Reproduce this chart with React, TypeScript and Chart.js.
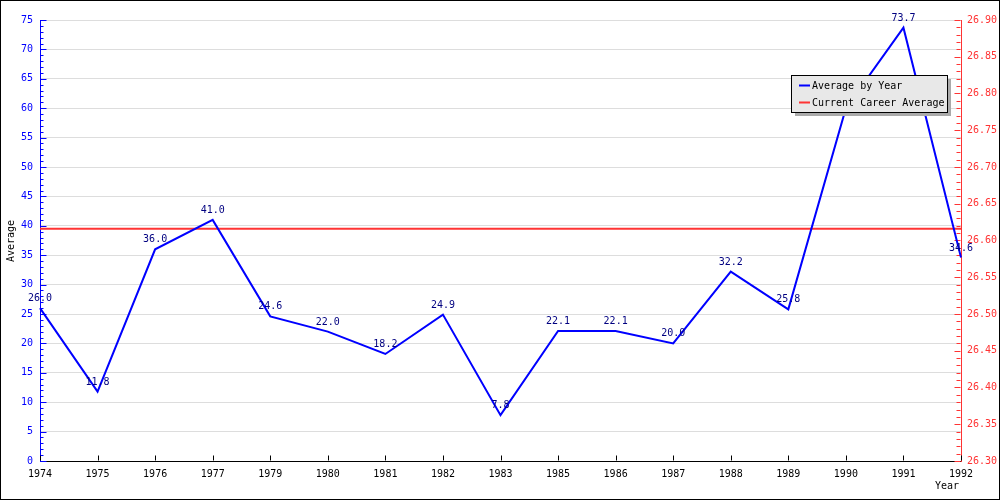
import React, { useEffect, useRef } from "react";
import { Chart, registerables } from "chart.js";

Chart.register(...registerables);

const years = [
  "1974", "1975", "1976", "1977", "1979", "1980", "1981", "1982", "1983",
  "1985", "1986", "1987", "1988", "1989", "1990", "1991", "1992",
];
const averageByYear = [
  26.0, 11.8, 36.0, 41.0, 24.6, 22.0, 18.2, 24.9, 7.8,
  22.1, 22.1, 20.0, 32.2, 25.8, 60.0, 73.7, 34.6,
];
const careerAverage = 26.616;
const careerLine = years.map(() => careerAverage);

const leftMin = 0;
const leftMax = 75;
const leftStep = 5;
const leftMinorStep = 1;
const rightMin = 26.3;
const rightMax = 26.9;
const rightStep = 0.05;
const rightMinorStep = 0.01;

const seriesLabels = ["Average by Year", "Current Career Average"];
const yTitle = "Average";
const xTitle = "Year";

const FAMILY = '"DejaVu Sans Mono", "Liberation Mono", monospace';
const FONT = "10px " + FAMILY;
const BLUE = "#0000ff";
const RED = "#ff3333";

const decorPlugin = {
  id: "decor",
  beforeDraw(chart: any) {
    const ctx = chart.ctx;
    ctx.save();
    ctx.fillStyle = "#ffffff";
    ctx.fillRect(0, 0, chart.width, chart.height);
    ctx.restore();
  },
  beforeDatasetsDraw(chart: any) {
    const ctx = chart.ctx;
    const y = chart.scales.y;
    const y1 = chart.scales.y1;
    const x = chart.scales.x;
    const area = chart.chartArea;
    ctx.save();
    ctx.lineWidth = 1;
    // left axis ticks (inward)
    ctx.strokeStyle = BLUE;
    ctx.beginPath();
    const lx = Math.round(area.left) + 0.5;
    for (let i = 0; i <= Math.round((leftMax - leftMin) / leftMinorStep); i++) {
      const v = leftMin + i * leftMinorStep;
      const py = Math.round(y.getPixelForValue(v)) + 0.5;
      const major = Math.abs(v / leftStep - Math.round(v / leftStep)) < 1e-6;
      ctx.moveTo(lx, py);
      ctx.lineTo(lx + (major ? 6 : 3), py);
    }
    ctx.stroke();
    // right axis ticks (inward)
    ctx.strokeStyle = RED;
    ctx.beginPath();
    const rx = Math.round(area.right) - 0.5;
    const nR = Math.round((rightMax - rightMin) / rightMinorStep);
    for (let i = 0; i <= nR; i++) {
      const v = rightMin + i * rightMinorStep;
      const py = Math.round(y1.getPixelForValue(v)) + 0.5;
      const major = i % 5 === 0;
      ctx.moveTo(rx, py);
      ctx.lineTo(rx - (major ? 6 : 4), py);
    }
    ctx.stroke();
    // bottom axis ticks (inward)
    ctx.strokeStyle = "#000000";
    ctx.beginPath();
    const by = Math.round(area.bottom) - 0.5;
    for (let i = 0; i < years.length; i++) {
      const px = Math.round(x.getPixelForValue(i)) + 0.5;
      ctx.moveTo(px, by);
      ctx.lineTo(px, by - 5);
    }
    ctx.stroke();
    ctx.restore();
  },
  afterDatasetsDraw(chart: any) {
    const ctx = chart.ctx;
    ctx.save();
    // data labels
    const meta = chart.getDatasetMeta(0);
    ctx.font = FONT;
    ctx.fillStyle = "#000080";
    ctx.textAlign = "center";
    ctx.textBaseline = "alphabetic";
    meta.data.forEach((pt: any, i: number) => {
      ctx.fillText(averageByYear[i].toFixed(1), pt.x, pt.y - 7);
    });

    // legend
    const lx = 791, ly = 75, lw = 156, lh = 37;
    ctx.fillStyle = "#aaaaaa";
    ctx.fillRect(lx + 4, ly + 4, lw, lh);
    ctx.fillStyle = "#e8e8e8";
    ctx.fillRect(lx, ly, lw, lh);
    ctx.strokeStyle = "#000000";
    ctx.lineWidth = 1;
    ctx.strokeRect(lx + 0.5, ly + 0.5, lw, lh);
    chart.data.datasets.forEach((ds: any, i: number) => {
      const yy = ly + 10 + i * 17;
      ctx.strokeStyle = ds.borderColor;
      ctx.lineWidth = 2;
      ctx.beginPath();
      ctx.moveTo(lx + 8, yy + 0.5);
      ctx.lineTo(lx + 19, yy + 0.5);
      ctx.stroke();
      ctx.fillStyle = "#000000";
      ctx.textAlign = "left";
      ctx.textBaseline = "middle";
      ctx.fillText(ds.label, lx + 21, yy + 1);
    });

    // axis titles
    ctx.fillStyle = "#000000";
    ctx.textAlign = "center";
    ctx.textBaseline = "middle";
    ctx.save();
    ctx.translate(11, 241);
    ctx.rotate(-Math.PI / 2);
    ctx.fillText(yTitle, 0, 0);
    ctx.restore();
    ctx.fillText(xTitle, 947, 486);

    // outer frame
    ctx.strokeStyle = "#000000";
    ctx.lineWidth = 1;
    ctx.strokeRect(0.5, 0.5, chart.width - 1, chart.height - 1);
    ctx.restore();
  },
};

export default function App() {
  const canvasRef = useRef<HTMLCanvasElement | null>(null);

  useEffect(() => {
    document.body.style.margin = "0";
    const canvas = canvasRef.current;
    if (!canvas) return;
    const tickFont = { family: FAMILY, size: 10 };
    const chart = new Chart(canvas, {
      type: "line",
      data: {
        labels: years,
        datasets: [
          {
            label: seriesLabels[0],
            data: averageByYear,
            borderColor: BLUE,
            backgroundColor: BLUE,
            borderWidth: 2,
            pointRadius: 0,
            tension: 0,
            yAxisID: "y",
          },
          {
            label: seriesLabels[1],
            data: careerLine,
            borderColor: RED,
            backgroundColor: RED,
            borderWidth: 2,
            pointRadius: 0,
            tension: 0,
            yAxisID: "y1",
          },
        ],
      },
      options: {
        responsive: false,
        animation: false,
        devicePixelRatio: 1,
        layout: { padding: { top: 20, left: 0, right: 0, bottom: 0 } },
        plugins: {
          legend: { display: false },
          tooltip: { enabled: false },
        },
        events: [],
        scales: {
          x: {
            type: "category",
            offset: false,
            grid: { display: false, drawTicks: false },
            border: { display: true, color: "#000000", width: 1 },
            ticks: {
              color: "#000000",
              font: tickFont,
              padding: 7,
              autoSkip: false,
              maxRotation: 0,
              minRotation: 0,
            },
            afterFit(scale: any) {
              scale.height = 39;
            },
          },
          y: {
            type: "linear",
            position: "left",
            min: leftMin,
            max: leftMax,
            ticks: {
              stepSize: leftStep,
              color: BLUE,
              font: tickFont,
              padding: 7,
            },
            grid: { color: "#dddddd", drawTicks: false, lineWidth: 1 },
            border: { display: true, color: BLUE, width: 1 },
            afterFit(scale: any) {
              scale.width = 40;
            },
          },
          y1: {
            type: "linear",
            position: "right",
            min: rightMin,
            max: rightMax,
            ticks: {
              stepSize: rightStep,
              color: RED,
              font: tickFont,
              padding: 6,
              callback: (v: any) => Number(v).toFixed(2),
            },
            grid: { display: false, drawTicks: false },
            border: { display: true, color: RED, width: 1 },
            afterFit(scale: any) {
              scale.width = 39;
            },
          },
        },
      },
      plugins: [decorPlugin],
    } as any);
    return () => {
      chart.destroy();
    };
  }, []);

  return (
    <div style={{ position: "absolute", left: 0, top: 0, width: 1000, height: 500 }}>
      <canvas ref={canvasRef} width={1000} height={500} style={{ display: "block" }} />
    </div>
  );
}
